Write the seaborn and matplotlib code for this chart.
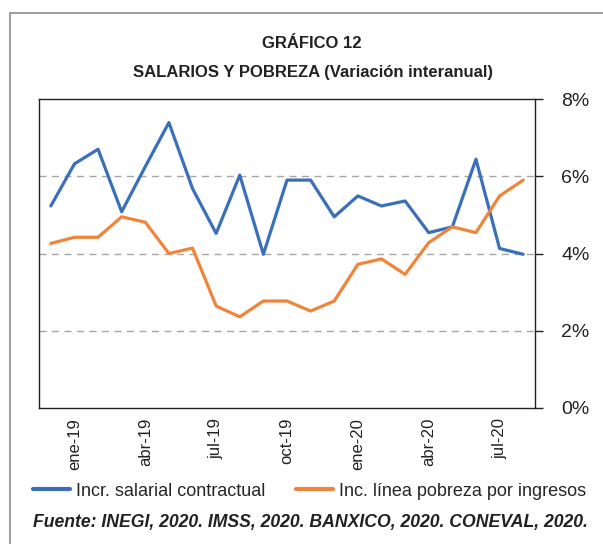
import numpy as np
import pandas as pd
import seaborn as sns
import matplotlib.pyplot as plt
from matplotlib.patches import Rectangle
from matplotlib.ticker import FuncFormatter

# meses dic-18 a ago-20
meses = ['dic-18', 'ene-19', 'feb-19', 'mar-19', 'abr-19', 'may-19', 'jun-19',
         'jul-19', 'ago-19', 'sep-19', 'oct-19', 'nov-19', 'dic-19', 'ene-20',
         'feb-20', 'mar-20', 'abr-20', 'may-20', 'jun-20', 'jul-20', 'ago-20']
salarial = [5.23, 6.32, 6.70, 5.08, 6.25, 7.39, 5.68, 4.52, 6.03, 3.98, 5.90,
            5.90, 4.95, 5.49, 5.23, 5.36, 4.54, 4.69, 6.44, 4.13, 3.98]
pobreza = [4.26, 4.42, 4.42, 4.95, 4.81, 4.00, 4.14, 2.64, 2.36, 2.77, 2.77,
           2.51, 2.77, 3.72, 3.86, 3.46, 4.28, 4.69, 4.54, 5.49, 5.90]
etiquetas = ['ene-19', 'abr-19', 'jul-19', 'oct-19', 'ene-20', 'abr-20', 'jul-20']
series = ['Incr. salarial contractual', 'Inc. línea pobreza por ingresos']
colores = ['#3a70b9', '#f0843a']

df = pd.DataFrame({
    'x': list(range(len(meses))) * 2,
    'valor': salarial + pobreza,
    'serie': [series[0]] * len(meses) + [series[1]] * len(meses),
})

sns.set_style('white')
plt.rcParams['font.family'] = ['Liberation Sans', 'DejaVu Sans']

fig = plt.figure(figsize=(6.03, 5.44), dpi=100)
ax = fig.add_axes([39 / 603, 1 - 408 / 544, 496 / 603, 309 / 544])

sns.lineplot(data=df, x='x', y='valor', hue='serie', palette=colores,
             linewidth=2.3, ax=ax, legend=False)

ax.set_xlim(-0.5, len(meses) - 0.5)
ax.set_ylim(0, 8)
for y in [2, 4, 6]:
    ax.axhline(y, color='#a6a6a6', linestyle=(0, (5, 4)), linewidth=1.0, zorder=0)

# ticks: marcas cada trimestre, etiquetas en medio
ax.set_xticks(np.arange(-0.5, len(meses), 3))
ax.set_xticklabels([])
pos = [meses.index(e) for e in etiquetas]
ax.set_xticks(pos, minor=True)
ax.set_xticklabels(etiquetas, minor=True, rotation=90, fontsize=12, color='#222222')
ax.tick_params(axis='x', which='major', direction='out', length=6, width=1, color='#222222')
ax.tick_params(axis='x', which='minor', length=0, pad=7)

ax.yaxis.tick_right()
ax.set_yticks([0, 2, 4, 6, 8])
ax.yaxis.set_major_formatter(FuncFormatter(lambda v, p: f'{v:.0f}%'))
ax.tick_params(axis='y', direction='out', length=6, width=1, labelsize=14,
               color='#222222', labelcolor='#222222', pad=13)
ax.set_xlabel('')
ax.set_ylabel('')
for s in ax.spines.values():
    s.set_visible(True)
    s.set_color('#222222')
    s.set_linewidth(1.0)

fig.text(312 / 603, 1 - 43 / 544, 'GRÁFICO 12', ha='center', va='center',
         fontsize=12, fontweight='bold', color='#222222')
fig.text(313 / 603, 1 - 72 / 544, 'SALARIOS Y POBREZA (Variación interanual)',
         ha='center', va='center', fontsize=12, fontweight='bold', color='#222222')

handles = [plt.Line2D([], [], color=c, linewidth=3) for c in colores]
fig.legend(handles, series, loc='center left', bbox_to_anchor=(33 / 603, 1 - 491 / 544),
           ncol=2, frameon=False, fontsize=13, handlelength=2.05, handletextpad=0.33,
           columnspacing=1.72, borderpad=0, borderaxespad=0)

fig.text(33 / 603, 1 - 522 / 544,
         'Fuente: INEGI, 2020. IMSS, 2020. BANXICO, 2020. CONEVAL, 2020.',
         ha='left', va='center', fontsize=12.7, fontweight='bold', fontstyle='italic',
         color='#222222')

fig.patches.append(Rectangle((10 / 603, -0.1), 1.2, 1 - 13 / 544 + 0.1,
                             transform=fig.transFigure, fill=False,
                             edgecolor='#8c8c8c', linewidth=1.2))

fig.savefig('out.png', dpi=100)
